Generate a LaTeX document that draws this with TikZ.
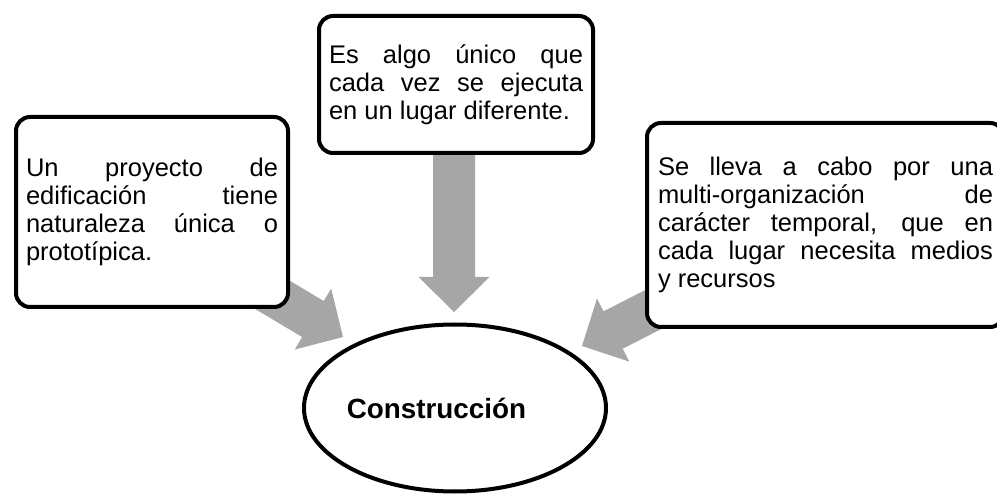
\documentclass[tikz,border=0pt]{standalone}
\usepackage{fontspec}
\setmainfont{Liberation Sans}
\usetikzlibrary{shapes,calc}
\definecolor{arrowgray}{RGB}{166,166,166}
\newcommand{\boxtext}{\fontsize{25.5}{28}\selectfont\hyphenpenalty=10000 \exhyphenpenalty=10000 \tolerance=10000 }
\tikzstyle{textbox}=[rectangle,rounded corners=14pt,draw,line width=4pt,fill=white,anchor=north west,align=justify,inner ysep=0pt,font=\boxtext]
\tikzstyle{core}=[ellipse,draw,line width=4pt,fill=white,minimum width=302pt,minimum height=167pt,inner sep=0pt,font=\bfseries\fontsize{27.8}{32}\selectfont]
\tikzstyle{fat} = [fill=arrowgray]

\begin{document}
\begin{tikzpicture}[x=1pt,y=1pt]
    \useasboundingbox (0,0) rectangle (997,496);
    \clip (0,0) rectangle (997,496);
    % Ends of the three gray arrows (the tails sit behind the boxes)
    \coordinate (ls) at (184,254);
    \coordinate (lt) at (343,159);
    \coordinate (ts) at (454,396);
    \coordinate (tt) at (454,184);
    \coordinate (rs) at (746,234);
    \coordinate (rt) at (582,150);
    % First we draw the arrows
    \foreach \s/\t in {ls/lt, ts/tt, rs/rt}{
        \coordinate (h) at ($(\t)!35pt!(\s)$);
        \fill[fat] (\t) -- ($(h)!35.5pt!90:(\t)$) -- ($(h)!21pt!90:(\t)$)
            -- ($(\s)!21pt!90:(\t)$) -- ($(\s)!21pt!-90:(\t)$)
            -- ($(h)!21pt!-90:(\t)$) -- ($(h)!35.5pt!-90:(\t)$) -- cycle;
    }
    % Then the boxes on top of them
    \node[textbox,text width=252pt,inner xsep=10pt,minimum width=272pt,minimum height=190pt] (left) at (14,381)
        {Un proyecto de\linebreak edificación tiene\linebreak naturaleza única o\linebreak prototípica.};
    \node[textbox,text width=254pt,inner xsep=10pt,minimum width=274pt,minimum height=137pt] (top) at (317,482)
        {Es algo único que\linebreak cada vez se ejecuta\linebreak en un lugar diferente.};
    \node[textbox,text width=335pt,inner xsep=11pt,minimum width=357pt,minimum height=204pt] (right) at (645,375)
        {Se lleva a cabo por una\linebreak multi-organización de\linebreak carácter temporal, que en\linebreak cada lugar necesita medios\linebreak y recursos};
    \node[core] (cons) at (455,88) {\kern-37pt Construcción};
\end{tikzpicture}
\end{document}
